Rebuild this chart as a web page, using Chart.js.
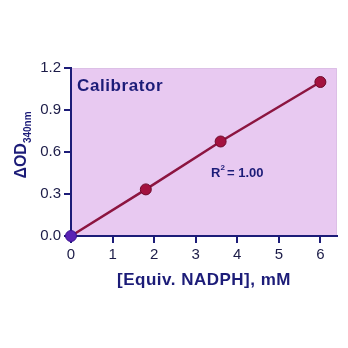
<!DOCTYPE html>
<html>
<head>
<meta charset="utf-8">
<script src="https://cdn.jsdelivr.net/npm/chart.js@4"></script>
<style>
  html, body { margin: 0; padding: 0; background: #ffffff; }
  #wrap { width: 348px; height: 348px; }
</style>
</head>
<body>
<div id="wrap"><canvas id="calChart" width="348" height="348"></canvas></div>
<script>
// values
const concValues = [0, 1.8, 3.6, 6.0];        // [Equiv. NADPH], mM
const odValues = [0, 0.333, 0.675, 1.10];     // delta OD 340nm
const xTickValues = [0, 1, 2, 3, 4, 5, 6];
const yTickValues = [0, 0.3, 0.6, 0.9, 1.2];
const pointColors = ['#5a22b4', '#a3123f', '#a3123f', '#a3123f'];

const navy = '#1c1c78';
const tickText = '#1c1c48';

// lilac plot background + text annotations
const decorPlugin = {
  id: 'decor',
  beforeDraw(chart) {
    const { ctx, chartArea: a } = chart;
    ctx.save();
    ctx.fillStyle = '#e8c9f1';
    ctx.fillRect(a.left, a.top, a.right - a.left, a.bottom - a.top);
    ctx.strokeStyle = '#dcbfe6';
    ctx.lineWidth = 1;
    ctx.beginPath();
    ctx.moveTo(a.left, a.top + 0.5);
    ctx.lineTo(a.right - 0.5, a.top + 0.5);
    ctx.lineTo(a.right - 0.5, a.bottom);
    ctx.stroke();
    ctx.restore();
  },
  afterDraw(chart) {
    const { ctx, chartArea: a } = chart;
    ctx.save();
    ctx.fillStyle = navy;
    ctx.textBaseline = 'middle';

    // panel label
    ctx.font = 'bold 17px Arial, "Liberation Sans", sans-serif';
    ctx.letterSpacing = '0.6px';
    ctx.textAlign = 'left';
    ctx.fillText('Calibrator', a.left + 6, 86);

    // R squared
    ctx.font = 'bold 13px Arial, "Liberation Sans", sans-serif';
    ctx.letterSpacing = '0px';
    ctx.fillText('R', 211, 173);
    const rw = ctx.measureText('R').width;
    ctx.font = 'bold 8px Arial, "Liberation Sans", sans-serif';
    ctx.fillText('2', 211 + rw, 168);
    ctx.font = 'bold 13px Arial, "Liberation Sans", sans-serif';
    ctx.fillText(' = 1.00', 211 + rw + 3, 173);

    // x axis title
    ctx.font = 'bold 17px Arial, "Liberation Sans", sans-serif';
    ctx.letterSpacing = '0.5px';
    ctx.textAlign = 'center';
    ctx.fillText('[Equiv. NADPH], mM', 204, 280);

    // y axis title, rotated, with subscript
    ctx.translate(22, 145);
    ctx.rotate(-Math.PI / 2);
    ctx.letterSpacing = '0px';
    ctx.font = 'bold 16px Arial, "Liberation Sans", sans-serif';
    const main = '\u0394OD';
    const mw = ctx.measureText(main).width;
    ctx.font = 'bold 10px Arial, "Liberation Sans", sans-serif';
    const sub = '340nm';
    const sw = ctx.measureText(sub).width;
    const start = -(mw + sw) / 2;
    ctx.textAlign = 'left';
    ctx.font = 'bold 16px Arial, "Liberation Sans", sans-serif';
    ctx.fillText(main, start, 0);
    ctx.font = 'bold 10px Arial, "Liberation Sans", sans-serif';
    ctx.fillText(sub, start + mw, 6);
    ctx.restore();
  }
};

const ctx = document.getElementById('calChart').getContext('2d');
new Chart(ctx, {
  type: 'scatter',
  data: {
    datasets: [{
      data: concValues.map((x, i) => ({ x: x, y: odValues[i] })),
      showLine: true,
      borderColor: '#8c1540',
      borderWidth: 2.5,
      pointRadius: 5.5,
      pointBackgroundColor: pointColors,
      pointBorderColor: ['#3a1290', '#6e0a2c', '#6e0a2c', '#6e0a2c'],
      pointBorderWidth: 1,
      clip: false
    }]
  },
  options: {
    responsive: false,
    animation: false,
    events: [],
    layout: { padding: { top: 68, right: 11, left: 0, bottom: 0 } },
    plugins: { legend: { display: false }, tooltip: { enabled: false } },
    scales: {
      x: {
        type: 'linear',
        min: 0,
        max: 6.4,
        afterBuildTicks: (scale) => { scale.ticks = xTickValues.map(v => ({ value: v })); },
        afterFit: (scale) => { scale.height = 112; },
        border: { display: true, color: navy, width: 2 },
        grid: { drawOnChartArea: false, drawTicks: true, tickLength: 7, tickColor: navy, lineWidth: 2 },
        ticks: {
          color: tickText,
          padding: 3,
          maxRotation: 0,
          font: { family: 'Arial, "Liberation Sans", sans-serif', size: 15 },
          callback: (v) => String(v)
        }
      },
      y: {
        type: 'linear',
        min: 0,
        max: 1.2,
        afterBuildTicks: (scale) => { scale.ticks = yTickValues.map(v => ({ value: v })); },
        afterFit: (scale) => { scale.width = 71; },
        border: { display: true, color: navy, width: 2 },
        grid: { drawOnChartArea: false, drawTicks: true, tickLength: 7, tickColor: navy, lineWidth: 2 },
        ticks: {
          color: tickText,
          padding: 3,
          font: { family: 'Arial, "Liberation Sans", sans-serif', size: 15 },
          callback: (v) => Number(v).toFixed(1)
        }
      }
    }
  },
  plugins: [decorPlugin]
});
</script>
</body>
</html>
